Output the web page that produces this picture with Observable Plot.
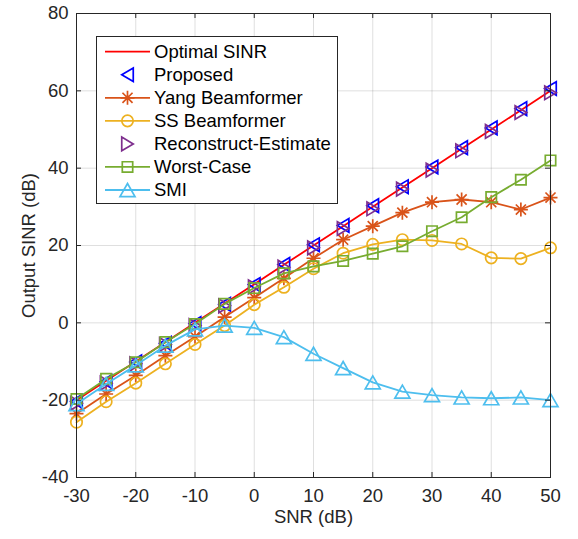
<!DOCTYPE html>
<html><head><meta charset="utf-8">
<script src="https://cdn.jsdelivr.net/npm/d3@7"></script>
<script src="https://cdn.jsdelivr.net/npm/@observablehq/plot@0.6"></script>
<style>
html,body{margin:0;padding:0;background:#fff;}
#chart{position:relative;width:578px;height:539px;}
</style></head><body><div id="chart"></div>
<script>
// ---- data ----
const snr = [-30,-25,-20,-15,-10,-5,0,5,10,15,20,25,30,35,40,45,50];
const optimal = [-20,-15,-10,-5,0,5,10,15,20,25,30,35,40,45,50,55,60];
const proposed = [-20.3,-15.2,-10.1,-5.3,-0.2,4.8,9.9,15.1,20.2,25.2,30.3,35.2,40.3,45.3,50.4,55.4,60.6];
const yang = [-23.5,-18.4,-13.6,-8.5,-3.6,1.5,6.5,11.5,16.7,21.5,25,28.5,31.2,31.9,31.2,29.3,32.4];
const ss = [-25.7,-20.4,-15.6,-10.6,-5.6,-0.7,4.7,9.2,14,18,20.3,21.5,21.3,20.4,16.8,16.6,19.4];
const reconstruct = [-20.8,-15.6,-10.6,-5.6,-0.7,4.4,9.3,14.4,19.4,24.4,29.5,34.6,39.5,44.5,49.5,54.4,59.5];
const worst = [-19.7,-14.5,-10.2,-5,-0.3,4.9,9,12.8,14.6,16,17.9,19.8,23.7,27.3,32.5,37,42];
const smi = [-21,-15.8,-11,-5.9,-1.7,-0.7,-1.3,-3.7,-8,-11.7,-15.4,-17.8,-18.7,-19.3,-19.5,-19.3,-20];
const xTicks = [-30,-20,-10,0,10,20,30,40,50];
const yTicks = [-40,-20,0,20,40,60,80];
const seriesNames = ["Optimal SINR","Proposed","Yang Beamformer","SS Beamformer","Reconstruct-Estimate","Worst-Case","SMI"];

// ---- symbols ----
const rad = s => Math.sqrt(s / Math.PI);
const triUp = {draw(c, s){ const r = rad(s), w = r, h = r*0.87; c.moveTo(0,-h); c.lineTo(w,h); c.lineTo(-w,h); c.closePath(); }};
const triLeft = {draw(c, s){ const r = rad(s), w = r*0.95, h = r*0.8; c.moveTo(-h,0); c.lineTo(h,-w); c.lineTo(h,w); c.closePath(); }};
const triRight = {draw(c, s){ const r = rad(s), w = r*0.95, h = r*0.8; c.moveTo(h,0); c.lineTo(-h,-w); c.lineTo(-h,w); c.closePath(); }};
const star8 = {draw(c, s){ const r = rad(s), d = r*0.72;
  c.moveTo(-r,0); c.lineTo(r,0); c.moveTo(0,-r); c.lineTo(0,r);
  c.moveTo(-d,-d); c.lineTo(d,d); c.moveTo(-d,d); c.lineTo(d,-d); }};
const sq = {draw(c, s){ const r = rad(s); c.rect(-r,-r,2*r,2*r); }};
const circ = {draw(c, s){ const r = rad(s); c.moveTo(r,0); c.arc(0,0,r,0,2*Math.PI); }};

const series = [
  {name: seriesNames[0], values: optimal, color: "#FF0000", line: true, symbol: null, r: 0},
  {name: seriesNames[1], values: proposed, color: "#0000FF", line: false, symbol: triLeft, r: 7.2},
  {name: seriesNames[2], values: yang, color: "#D95319", line: true, symbol: star8, r: 7},
  {name: seriesNames[3], values: ss, color: "#EDB120", line: true, symbol: circ, r: 5.7},
  {name: seriesNames[4], values: reconstruct, color: "#7E2F8E", line: false, symbol: triRight, r: 7.2},
  {name: seriesNames[5], values: worst, color: "#77AC30", line: true, symbol: sq, r: 5.2},
  {name: seriesNames[6], values: smi, color: "#4DBEEE", line: true, symbol: triUp, r: 7.5}
];

const W = 578, H = 539, mL = 76, mR = 28, mT = 13, mB = 62;
const pw = W - mL - mR, ph = H - mT - mB, tk = 5;
const axisColor = "#262626";
const font = "'Liberation Sans', Arial, Helvetica, sans-serif";
const fs = 18.5;
const fmt = d => String(d);

const marks = [
  Plot.gridX(xTicks, {stroke: axisColor, strokeOpacity: 0.15, strokeWidth: 1}),
  Plot.gridY(yTicks, {stroke: axisColor, strokeOpacity: 0.15, strokeWidth: 1})
];
for (const s of series) {
  const rows = snr.map((x, i) => ({x, y: s.values[i]}));
  if (s.line) marks.push(Plot.line(rows, {x: "x", y: "y", stroke: s.color, strokeWidth: 1.8}));
  if (s.symbol) marks.push(Plot.dot(rows, {x: "x", y: "y", stroke: s.color, fill: "none", strokeWidth: 1.7, symbol: s.symbol, r: s.r}));
}
marks.push(
  Plot.frame({stroke: axisColor, strokeWidth: 1}),
  Plot.tickX(xTicks, {x: d => d, stroke: axisColor, insetTop: ph - tk}),
  Plot.tickX(xTicks, {x: d => d, stroke: axisColor, insetBottom: ph - tk}),
  Plot.tickY(yTicks, {y: d => d, stroke: axisColor, insetRight: pw - tk}),
  Plot.tickY(yTicks, {y: d => d, stroke: axisColor, insetLeft: pw - tk}),
  Plot.axisX({ticks: xTicks, tickFormat: fmt, tickSize: 0, tickPadding: 11, fontSize: fs, color: axisColor,
    label: "SNR (dB)", labelAnchor: "center", labelArrow: "none", labelOffset: 45}),
  Plot.axisY({ticks: yTicks, tickFormat: fmt, tickSize: 0, tickPadding: 8, fontSize: fs, color: axisColor,
    label: "Output SINR (dB)", labelAnchor: "center", labelArrow: "none", labelOffset: 55})
);

const chart = Plot.plot({
  width: W, height: H,
  marginLeft: mL, marginRight: mR, marginTop: mT, marginBottom: mB,
  x: {domain: [-30, 50]},
  y: {domain: [-40, 80]},
  style: {fontFamily: font, fontSize: fs + "px", color: axisColor, background: "#fff"},
  marks
});
document.getElementById("chart").appendChild(chart);

// ---- legend (inside the axes, top-left) ----
const svg = d3.select(chart);
const lg = svg.append("g").attr("font-family", font).attr("font-size", fs).attr("text-anchor", "start");
const lx = 96, ly = 36, lw = 241, lh = 167, rowH = 23.05;
lg.append("rect").attr("x", lx + 0.5).attr("y", ly + 0.5).attr("width", lw).attr("height", lh)
  .attr("fill", "#fff").attr("stroke", axisColor).attr("stroke-width", 1);
series.forEach((s, i) => {
  const cy = ly + 15.7 + i * rowH;
  if (s.line) lg.append("line").attr("x1", lx + 9).attr("x2", lx + 54).attr("y1", cy).attr("y2", cy)
    .attr("stroke", s.color).attr("stroke-width", 1.8);
  if (s.symbol) lg.append("path").attr("transform", `translate(${lx + 31.5},${cy})`)
    .attr("d", d3.symbol(s.symbol, s.r * s.r * Math.PI)()).attr("fill", "none")
    .attr("stroke", s.color).attr("stroke-width", 1.7);
  lg.append("text").attr("x", lx + 58).attr("y", cy).attr("dy", "0.35em").attr("fill", "#000")
    .attr("text-anchor", "start").text(s.name);
});
</script></body></html>
